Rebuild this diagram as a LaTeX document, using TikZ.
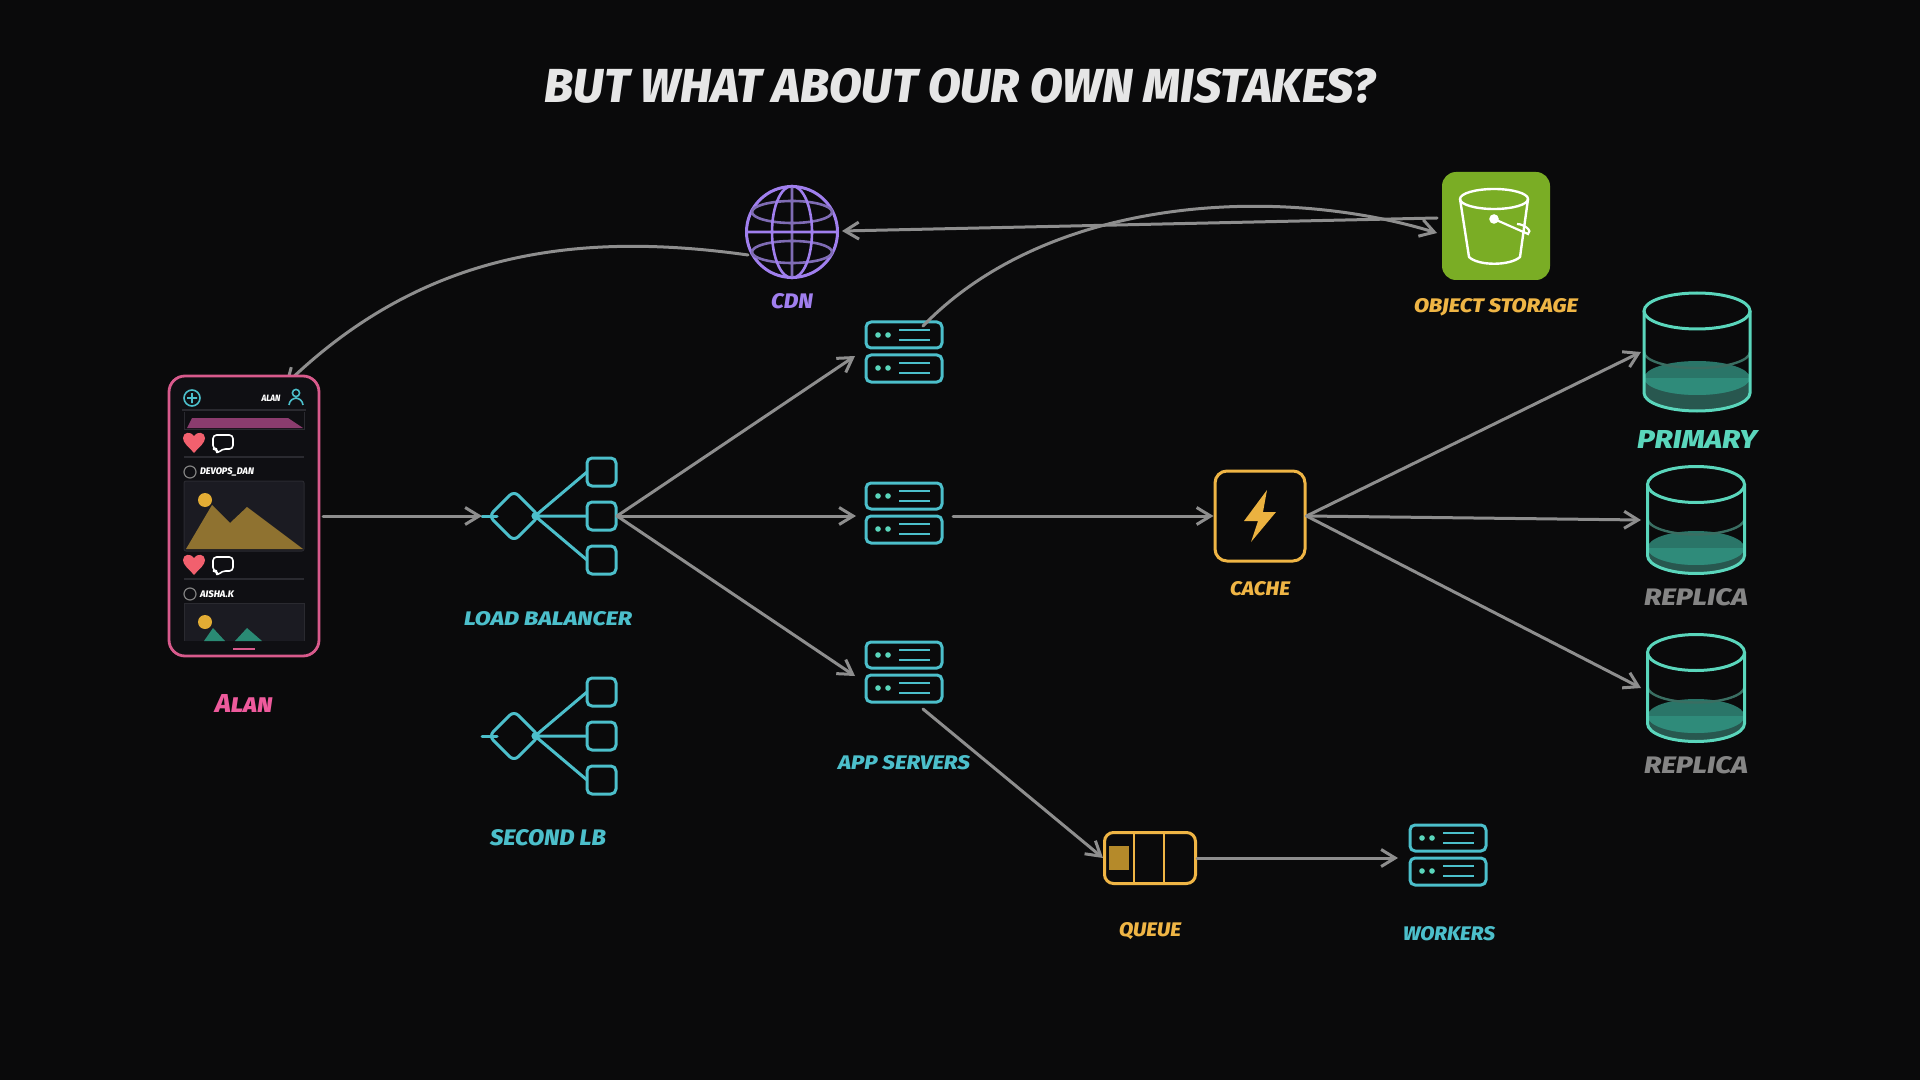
\documentclass[tikz,border=0pt]{standalone}
\usepackage{fontspec}
\usepackage{graphicx}
\usetikzlibrary{arrows.meta,calc}
\newfontfamily\brushfont{Fira Sans}[BoldFont={Fira Sans ExtraBold},BoldItalicFont={Fira Sans ExtraBold Italic}]
% Caption set to a given width and cap height, in points (two canvas pixels each)
\newcommand{\capt}[3]{\resizebox{#1pt}{#2pt}{\brushfont\bfseries\itshape #3}}
\definecolor{canvas}{HTML}{0A0A0B}
\definecolor{linkgray}{HTML}{8E8E8E}
\definecolor{cyanline}{HTML}{4CBFCB}
\definecolor{mintline}{HTML}{5AD6BC}
\definecolor{mintdot}{HTML}{5AD6BC}
\definecolor{amber}{HTML}{EFB545}
\definecolor{violet}{HTML}{A07FEE}
\definecolor{violetdim}{HTML}{7F6CB4}
\definecolor{rosepink}{HTML}{EE5A9C}
\definecolor{framepink}{HTML}{D85A8C}
\definecolor{leaf}{HTML}{7AAD25}
\definecolor{titlegray}{HTML}{E6E6E6}
\definecolor{replicagray}{HTML}{858585}
\definecolor{screen}{HTML}{0F0F13}
\definecolor{panel}{HTML}{1B1B22}
\definecolor{rule}{HTML}{2A2A30}
\definecolor{ochre}{HTML}{8F7230}
\definecolor{sungold}{HTML}{E2AC34}
\definecolor{heartred}{HTML}{F2606E}
\definecolor{mauve}{HTML}{8B3C6E}
\definecolor{tealhill}{HTML}{2A8A74}
\definecolor{waterdark}{HTML}{28574F}
\definecolor{watertop}{HTML}{2F8B7A}
\definecolor{waterback}{HTML}{2A7568}
\definecolor{levelline}{HTML}{3A6E62}
\tikzset{
  link/.style={draw=linkgray,line width=1.5pt,line cap=round,-{Straight Barb[length=7pt,width=8.5pt,line width=1.5pt]}},
  cyanstroke/.style={draw=cyanline,line width=1.5pt,line join=round},
  caption/.style={inner sep=0pt,outer sep=0pt},
  server rack/.pic={
    \draw[cyanstroke,rounded corners=2.5pt] (-38,-30) rectangle (38,-4);
    \draw[cyanstroke,rounded corners=2.5pt] (-38,3) rectangle (38,30);
    \foreach \yy in {-17,16}{
      \fill[mintdot] (-26,\yy) circle (1.4pt) (-16,\yy) circle (1.4pt);
      \draw[cyanline,line width=1pt] (-5,\yy-5) -- (26,\yy-5) (-5,\yy+5) -- (26,\yy+5);
    }
  },
  lb fan/.pic={
    \draw[cyanstroke,rounded corners=3pt] (-25,0) -- (0,-25) -- (25,0) -- (0,25) -- cycle;
    \draw[cyanstroke,line cap=round] (-32,0) -- (-17,0);
    \fill[cyanline] (21,0) circle (1.8pt);
    \draw[cyanstroke] (21,0) -- (73,-44) (21,0) -- (73,0) (21,0) -- (73,44);
    \foreach \yy in {-44,0,44}
      \draw[cyanstroke,rounded corners=2.5pt,fill=canvas] (73,\yy-14) rectangle (102,\yy+14);
  },
  pics/db barrel/.style n args={5}{code={
    % half width, half body height, end ellipse radius, level line height, water surface height
    \fill[waterdark] (-#1,#5) -- (-#1,#2) arc[start angle=180,end angle=0,x radius=#1,y radius=#3]
      -- (#1,#5) -- cycle;
    \fill[waterback] (0,#5) ellipse[x radius=#1,y radius=#3-1];
    \fill[watertop] (-#1,#5) arc[start angle=180,end angle=0,x radius=#1,y radius=#3-1] -- cycle;
    \draw[levelline,line width=1.2pt] (-#1,#4) arc[start angle=180,end angle=0,x radius=#1,y radius=#3-2];
    \draw[draw=mintline,line width=1.5pt] (0,-#2) ellipse[x radius=#1,y radius=#3];
    \draw[draw=mintline,line width=1.5pt] (-#1,-#2) -- (-#1,#2)
      arc[start angle=180,end angle=0,x radius=#1,y radius=#3] -- (#1,-#2);
  }},
}
\begin{document}
\begin{tikzpicture}[x=0.5pt,y=-0.5pt]
\fill[canvas] (0,0) rectangle (1920,1080);
\useasboundingbox (0,0) rectangle (1920,1080);

\node[caption,text=titlegray] (title) at (960,86) {\capt{415}{17}{BUT WHAT ABOUT OUR OWN MISTAKES?}};

% The CDN feed runs behind the handset frame
\coordinate (cdnleft) at (748,255);
\coordinate (phonetop) at (285,385);
\draw[link] (cdnleft) .. controls (570,230) and (420,255) .. (phonetop);

% Handset with its feed
\node[draw=framepink,line width=1.4pt,fill=screen,rounded corners=8pt,minimum width=75pt,minimum height=140pt,inner sep=0pt] (phone) at (244,516) {};
\begin{scope}
  \draw[cyanline,line width=.8pt] (192,398) circle (8) (187,398) -- (197,398) (192,393) -- (192,403);
  \node[caption,text=white] (hdrname) at (271,398) {\capt{9.5}{3.2}{ALAN}};
  \draw[cyanline,line width=.8pt] (296,393) circle (3.6) (289,405) .. controls (290,396) and (302,396) .. (303,405);
  \draw[rule,line width=.6pt] (182,410) -- (306,410) (184,457) -- (304,457) (184,579) -- (304,579);
  \fill[mauve] (187,428) -- (192,418) -- (288,418) -- (303,428) -- cycle;
  \draw[rule,line width=.5pt] (184,412) -- (184,429) -- (304,429) -- (304,412);
  \foreach \yy in {442,564}{
    \fill[heartred] (194,\yy+11) .. controls (188,\yy+4) and (183,\yy+1) .. (183,\yy-4)
      .. controls (183,\yy-10) and (191,\yy-11) .. (194,\yy-6)
      .. controls (197,\yy-11) and (205,\yy-10) .. (205,\yy-4)
      .. controls (205,\yy+1) and (200,\yy+4) .. (194,\yy+11) -- cycle;
    \draw[white,line width=.8pt,rounded corners=1.8pt,line join=round]
      (213,\yy-7) -- (233,\yy-7) -- (233,\yy+7) -- (222,\yy+7) -- (217,\yy+12) -- (217,\yy+7) -- (213,\yy+7) -- cycle;
  }
  \draw[gray,line width=.6pt] (190,472) circle (6) (190,594) circle (6);
  \node[caption,text=white,anchor=west] (postone) at (200,472) {\capt{27}{3.4}{DEVOPS\_DAN}};
  \node[caption,text=white,anchor=west] (posttwo) at (200,594) {\capt{17}{3.4}{AISHA.K}};
  \filldraw[fill=panel,draw=rule,line width=.5pt,rounded corners=1pt] (184,481) rectangle (304,551);
  \fill[ochre] (186,549) -- (212,505) -- (230,523) -- (247,507) -- (303,549) -- cycle;
  \fill[sungold] (205,500) circle (7);
  \fill[panel] (184,603) rectangle (304,641);
  \draw[rule,line width=.5pt] (184,641) -- (184,603) -- (304,603) -- (304,641);
  \fill[tealhill] (204,641) -- (213,628) -- (225,641) -- cycle (235,641) -- (247,628) -- (262,641) -- cycle;
  \fill[sungold] (205,622) circle (7);
  \draw[framepink,line width=1pt] (233,649) -- (255,649);
\end{scope}
\node[caption,text=rosepink] (alanlabel) at (244,703) {\capt{29}{9}{\addfontfeature{Letters=SmallCaps}Alan}};

% Load balancers
\pic at (514,516) {lb fan};
\coordinate (lbin) at (482,516);
\coordinate (lbout) at (617,516);
\node[caption,text=cyanline] (lblabel) at (548,619) {\capt{84}{7}{LOAD BALANCER}};
\pic at (514,736) {lb fan};
\node[caption,text=cyanline] (lb2label) at (548,838) {\capt{58}{8}{SECOND LB}};

% Application servers
\pic at (904,352) {server rack};
\pic at (904,513) {server rack};
\pic at (904,672) {server rack};
\coordinate (appone) at (855,356);
\coordinate (apptwo) at (856,516);
\coordinate (apptwoout) at (953,516);
\coordinate (appthree) at (855,676);
\coordinate (appthreeout) at (923,709);
\node[caption,text=cyanline] (applabel) at (904,763) {\capt{66}{7}{APP SERVERS}};

% Worker pool
\begin{scope}[shift={(1448,855)},scale=1.04]
  \pic {server rack};
\end{scope}
\coordinate (workersin) at (1398,858);
\node[caption,text=cyanline] (workerlabel) at (1449,934) {\capt{46}{7}{WORKERS}};

% Queue
\node[draw=amber,line width=1.5pt,rounded corners=4.5pt,minimum width=45.5pt,minimum height=25.5pt,inner sep=0pt] (queue) at (1150,858) {};
\draw[amber,line width=1.2pt] (1134,832) -- (1134,883) (1164,832) -- (1164,883);
\fill[sungold!80!black] (1109,846) rectangle (1129,870);
\node[caption,text=amber] (queuelabel) at (1150,931) {\capt{31}{7}{QUEUE}};

% Cache
\node[draw=amber,line width=1.5pt,rounded corners=6pt,minimum size=45pt,inner sep=0pt] (cache) at (1260,516) {};
\fill[sungold!30!amber] (1267,490) -- (1244,521) -- (1258,521) -- (1251,542) -- (1276,512) -- (1263,512) -- cycle;
\node[caption,text=amber] (cachelabel) at (1260,589) {\capt{30}{7}{CACHE}};

% CDN globe
\node[circle,draw=violet,line width=1.5pt,minimum size=45.5pt,inner sep=0pt] (cdn) at (792,232) {};
\draw[violetdim,line width=1.3pt] (792,186) -- (792,278)
  (752,212) arc[start angle=180,end angle=-180,x radius=40,y radius=11]
  (752,252) arc[start angle=180,end angle=-180,x radius=40,y radius=11];
\draw[violet,line width=1.3pt] (792,232) ellipse[x radius=20,y radius=46] (746,232) -- (838,232);
\node[caption,text=violet] (cdnlabel) at (792,301) {\capt{21}{7.5}{CDN}};

% Object storage
\node[fill=leaf,rounded corners=7pt,minimum size=54pt,inner sep=0pt] (store) at (1496,226) {};
\draw[white,line width=1.2pt,line join=round] (1494,199) ellipse[x radius=34,y radius=10];
\draw[white,line width=1.2pt,line join=round] (1460,199) -- (1469,257) .. controls (1478,266) and (1510,266) .. (1520,257) -- (1528,199);
\fill[white] (1494,219) circle (2.4pt);
\draw[white,line width=1.1pt] (1494,219) -- (1528,234) .. controls (1533,231) and (1524,224) .. (1517,224);
\node[caption,text=amber] (storelabel) at (1496,307.5) {\capt{82}{7}{OBJECT STORAGE}};

% Databases
\pic at (1697,352) {db barrel={53}{41}{18}{0}{26}};
\pic at (1696,520) {db barrel={48.5}{35.5}{18}{-1.5}{28}};
\pic at (1696,688) {db barrel={48.5}{35.5}{18}{-1.5}{28}};
\coordinate (dbprimary) at (1641,352);
\coordinate (dbreplicaone) at (1641,520);
\coordinate (dbreplicatwo) at (1641,688);
\node[caption,text=mintline] (primarylabel) at (1697,439) {\capt{60}{9}{PRIMARY}};
\node[caption,text=replicagray] (replicaonelabel) at (1696,597) {\capt{52}{8.5}{REPLICA}};
\node[caption,text=replicagray] (replicatwolabel) at (1696,765) {\capt{52}{8.5}{REPLICA}};

% Connectors
\coordinate (phoneout) at (323,516);
\draw[link] (phoneout) -- (lbin);
\draw[link] (lbout) -- (appone);
\draw[link] (lbout) -- (apptwo);
\draw[link] (lbout) -- (appthree);
\draw[link] (apptwoout) -- (cache.west);
\draw[link] (cache.east) -- (dbprimary);
\draw[link] (cache.east) -- (dbreplicaone);
\draw[link] (cache.east) -- (dbreplicatwo);
\draw[link] (appthreeout) -- (queue.west);
\draw[link] (queue.east) -- (workersin);
\coordinate (storeleft) at (1437,218);
\coordinate (storetip) at (1437,233);
\coordinate (cdnright) at (842,231);
\coordinate (apponetail) at (923,326);
\draw[link] (storeleft) -- (cdnright);
\draw[link] (apponetail) .. controls (1050,195) and (1280,185) .. (storetip);
\end{tikzpicture}
\end{document}
